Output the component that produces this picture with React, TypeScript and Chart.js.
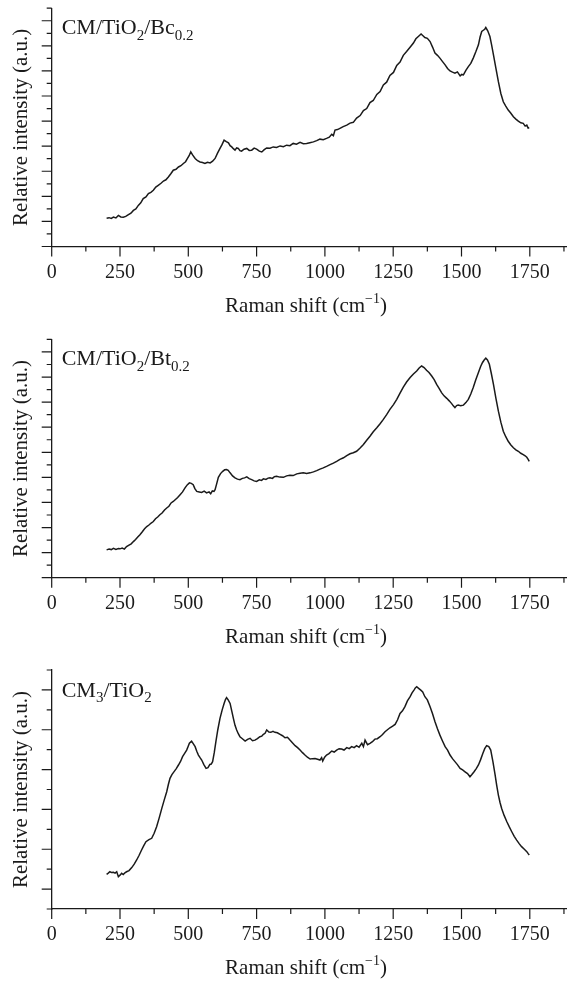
import React, { useEffect, useRef } from 'react';
import { Chart, registerables } from 'chart.js';

Chart.register(...registerables);

// ---------- DATA ----------
const xMajorTicks = [0, 250, 500, 750, 1000, 1250, 1500, 1750];
const xMinorTicks = [125, 375, 625, 875, 1125, 1375, 1625, 1875];

// Panel 1: CM/TiO2/Bc0.2
const shiftBc = [201, 210, 218, 226, 235, 244, 253, 262, 271, 281, 290, 299, 308, 317, 326, 335, 345, 354, 363, 372, 381, 390, 400, 409, 418, 427, 436, 445, 455, 464, 473, 482, 490, 497, 503, 509, 515, 525, 534, 543, 552, 561, 570, 580, 589, 598, 607, 616, 623, 631, 639, 647, 653, 659, 665, 671, 677, 683, 689, 695, 704, 714, 723, 732, 741, 750, 760, 769, 778, 787, 799, 811, 823, 836, 848, 860, 872, 884, 896, 909, 921, 933, 945, 958, 970, 982, 994, 1006, 1016, 1025, 1031, 1037, 1046, 1055, 1067, 1080, 1092, 1104, 1116, 1129, 1141, 1153, 1165, 1177, 1190, 1202, 1214, 1226, 1238, 1251, 1263, 1275, 1287, 1299, 1311, 1324, 1333, 1342, 1347, 1352, 1359, 1366, 1375, 1385, 1394, 1403, 1412, 1421, 1430, 1440, 1449, 1458, 1467, 1476, 1485, 1495, 1501, 1507, 1516, 1525, 1534, 1543, 1552, 1562, 1568, 1574, 1580, 1585, 1589, 1596, 1604, 1610, 1617, 1626, 1635, 1644, 1653, 1662, 1671, 1680, 1690, 1699, 1708, 1717, 1726, 1733, 1739, 1744, 1748];
const intensityBc = [1.13, 1.15, 1.12, 1.17, 1.14, 1.24, 1.18, 1.17, 1.2, 1.27, 1.33, 1.44, 1.5, 1.64, 1.74, 1.91, 1.98, 2.11, 2.16, 2.24, 2.37, 2.44, 2.52, 2.61, 2.66, 2.77, 2.9, 3.04, 3.08, 3.17, 3.22, 3.31, 3.38, 3.51, 3.62, 3.77, 3.66, 3.51, 3.42, 3.37, 3.35, 3.31, 3.36, 3.33, 3.4, 3.51, 3.72, 3.91, 4.05, 4.24, 4.18, 4.13, 4.02, 3.97, 3.9, 3.84, 3.93, 3.91, 3.82, 3.8, 3.88, 3.91, 3.83, 3.84, 3.92, 3.88, 3.8, 3.77, 3.86, 3.93, 3.92, 3.97, 3.95, 4.01, 3.98, 4.04, 4.02, 4.11, 4.08, 4.15, 4.1, 4.11, 4.14, 4.17, 4.22, 4.28, 4.26, 4.31, 4.36, 4.47, 4.42, 4.64, 4.66, 4.71, 4.78, 4.84, 4.92, 4.95, 5.12, 5.22, 5.42, 5.5, 5.74, 5.82, 6.06, 6.18, 6.44, 6.55, 6.82, 6.94, 7.22, 7.35, 7.62, 7.77, 7.93, 8.11, 8.28, 8.37, 8.42, 8.47, 8.4, 8.33, 8.3, 8.17, 7.95, 7.71, 7.62, 7.51, 7.38, 7.24, 7.1, 7.0, 6.95, 6.91, 6.96, 6.8, 6.86, 6.84, 7.02, 7.17, 7.3, 7.51, 7.75, 8.04, 8.35, 8.57, 8.62, 8.66, 8.73, 8.6, 8.37, 8.05, 7.64, 7.1, 6.57, 6.1, 5.77, 5.6, 5.44, 5.32, 5.17, 5.08, 5.0, 4.93, 4.91, 4.8, 4.84, 4.72, 4.73];

// Panel 2: CM/TiO2/Bt0.2
const shiftBt = [201, 210, 218, 226, 235, 244, 250, 258, 266, 274, 283, 291, 299, 307, 315, 323, 331, 340, 348, 356, 364, 372, 380, 388, 396, 404, 413, 421, 429, 437, 445, 453, 461, 470, 479, 488, 496, 504, 511, 518, 524, 531, 540, 549, 558, 567, 576, 582, 588, 594, 598, 604, 610, 618, 626, 633, 640, 646, 653, 662, 671, 680, 689, 698, 706, 714, 723, 732, 741, 750, 760, 768, 775, 784, 792, 799, 808, 815, 823, 835, 848, 860, 872, 884, 897, 909, 921, 933, 946, 958, 970, 982, 994, 1006, 1019, 1031, 1043, 1055, 1068, 1080, 1092, 1104, 1116, 1128, 1141, 1153, 1165, 1177, 1190, 1202, 1214, 1226, 1238, 1251, 1263, 1275, 1287, 1299, 1312, 1324, 1336, 1345, 1354, 1363, 1372, 1381, 1391, 1400, 1409, 1418, 1427, 1436, 1446, 1455, 1464, 1470, 1476, 1482, 1488, 1497, 1507, 1516, 1525, 1534, 1543, 1552, 1562, 1570, 1577, 1583, 1589, 1595, 1602, 1609, 1617, 1626, 1635, 1644, 1653, 1662, 1671, 1680, 1690, 1699, 1708, 1717, 1726, 1733, 1739, 1744, 1748];
const intensityBt = [1.11, 1.14, 1.12, 1.17, 1.13, 1.16, 1.15, 1.18, 1.14, 1.24, 1.3, 1.35, 1.44, 1.52, 1.62, 1.71, 1.82, 1.95, 2.04, 2.1, 2.18, 2.24, 2.35, 2.42, 2.51, 2.58, 2.7, 2.78, 2.85, 2.98, 3.04, 3.12, 3.2, 3.31, 3.42, 3.58, 3.7, 3.78, 3.76, 3.71, 3.55, 3.44, 3.42, 3.4, 3.45, 3.38, 3.42, 3.35, 3.46, 3.44, 3.51, 3.75, 4.0, 4.15, 4.24, 4.3, 4.31, 4.28, 4.18, 4.06, 3.98, 3.93, 3.91, 3.96, 3.98, 4.02, 3.95, 3.91, 3.86, 3.84, 3.9, 3.88, 3.94, 3.92, 3.97, 3.98, 3.96, 4.03, 4.04, 4.01, 4.0, 4.06, 4.08, 4.07, 4.14, 4.16, 4.18, 4.15, 4.18, 4.22, 4.27, 4.33, 4.38, 4.44, 4.51, 4.57, 4.64, 4.72, 4.78, 4.87, 4.94, 4.98, 5.04, 5.16, 5.31, 5.48, 5.64, 5.82, 5.98, 6.14, 6.31, 6.5, 6.71, 6.9, 7.11, 7.36, 7.6, 7.8, 7.98, 8.12, 8.24, 8.36, 8.44, 8.38, 8.27, 8.18, 8.04, 7.9, 7.71, 7.55, 7.38, 7.25, 7.15, 7.05, 6.94, 6.85, 6.78, 6.86, 6.88, 6.86, 6.88, 6.98, 7.11, 7.32, 7.58, 7.88, 8.18, 8.42, 8.58, 8.68, 8.75, 8.68, 8.51, 8.15, 7.71, 7.15, 6.64, 6.2, 5.84, 5.62, 5.44, 5.3, 5.18, 5.1, 5.04, 4.96, 4.91, 4.86, 4.8, 4.72, 4.64];

// Panel 3: CM3/TiO2
const shiftCM3 = [201, 207, 213, 219, 226, 232, 238, 244, 250, 256, 262, 268, 274, 283, 293, 302, 311, 320, 329, 337, 345, 356, 366, 375, 384, 393, 403, 412, 421, 427, 433, 440, 448, 456, 464, 472, 479, 486, 494, 499, 504, 512, 518, 525, 531, 537, 543, 549, 557, 565, 572, 579, 584, 589, 595, 601, 608, 616, 624, 631, 636, 640, 646, 653, 659, 665, 671, 677, 683, 689, 698, 708, 717, 726, 735, 744, 753, 762, 769, 775, 781, 787, 795, 802, 810, 817, 826, 836, 845, 854, 863, 872, 881, 891, 900, 909, 918, 927, 936, 946, 955, 964, 973, 982, 988, 992, 999, 1006, 1015, 1025, 1034, 1043, 1052, 1061, 1070, 1080, 1089, 1098, 1107, 1116, 1125, 1135, 1141, 1147, 1156, 1165, 1174, 1183, 1192, 1202, 1211, 1220, 1229, 1238, 1248, 1257, 1266, 1275, 1284, 1293, 1302, 1312, 1319, 1326, 1331, 1336, 1343, 1351, 1358, 1366, 1375, 1385, 1394, 1403, 1412, 1421, 1430, 1440, 1449, 1458, 1467, 1476, 1485, 1495, 1504, 1513, 1522, 1531, 1538, 1546, 1554, 1562, 1570, 1578, 1585, 1592, 1600, 1607, 1615, 1623, 1629, 1635, 1641, 1647, 1656, 1666, 1675, 1684, 1693, 1702, 1711, 1720, 1730, 1739, 1744, 1748];
const intensityCM3 = [1.74, 1.8, 1.87, 1.83, 1.84, 1.8, 1.87, 1.62, 1.7, 1.79, 1.73, 1.82, 1.87, 1.93, 2.08, 2.25, 2.46, 2.7, 2.96, 3.18, 3.38, 3.48, 3.55, 3.8, 4.13, 4.55, 5.05, 5.48, 5.89, 6.25, 6.56, 6.75, 6.9, 7.05, 7.23, 7.42, 7.65, 7.8, 7.98, 8.15, 8.32, 8.43, 8.3, 8.15, 7.92, 7.73, 7.6, 7.48, 7.25, 7.06, 7.1, 7.26, 7.28, 7.4, 7.85, 8.4, 9.0, 9.57, 10.0, 10.32, 10.52, 10.61, 10.5, 10.32, 9.95, 9.57, 9.22, 8.99, 8.8, 8.65, 8.55, 8.43, 8.52, 8.57, 8.45, 8.48, 8.56, 8.65, 8.68, 8.77, 8.82, 8.99, 8.88, 8.87, 8.92, 8.87, 8.85, 8.77, 8.7, 8.6, 8.62, 8.48, 8.35, 8.2, 8.1, 7.98, 7.85, 7.73, 7.62, 7.53, 7.55, 7.56, 7.52, 7.48, 7.6, 7.43, 7.62, 7.73, 7.8, 7.93, 7.88, 7.98, 8.05, 8.03, 7.98, 8.1, 8.05, 8.15, 8.1, 8.2, 8.12, 8.32, 8.15, 8.48, 8.25, 8.32, 8.4, 8.53, 8.55, 8.65, 8.76, 8.9, 9.0, 9.1, 9.18, 9.27, 9.5, 9.82, 9.95, 10.16, 10.45, 10.66, 10.85, 10.99, 11.1, 11.16, 11.08, 10.99, 10.9, 10.66, 10.5, 10.16, 9.8, 9.4, 9.05, 8.73, 8.45, 8.15, 7.98, 7.73, 7.55, 7.4, 7.25, 7.06, 6.98, 6.89, 6.8, 6.64, 6.75, 6.89, 7.05, 7.23, 7.5, 7.81, 8.05, 8.2, 8.15, 7.98, 7.4, 6.73, 6.2, 5.72, 5.35, 5.05, 4.7, 4.38, 4.12, 3.88, 3.65, 3.46, 3.28, 3.13, 3.0, 2.88, 2.78, 2.71];

const yMajor12 = [0, 1, 2, 3, 4, 5, 6, 7, 8, 9];
const yMinor12 = [0.5, 1.5, 2.5, 3.5, 4.5, 5.5, 6.5, 7.5, 8.5, 9.5];
const yMajor3 = [1, 3, 5, 7, 9, 11];
const yMinor3 = [0, 2, 4, 6, 8, 10, 12];

// ---------- STYLE / LAYOUT ----------
const INK = '#1a1a1a';
const FONT = '"Liberation Serif", "Times New Roman", serif';
const W = 567;
const H = 327;
const AXIS_LEFT = 51.7;
const X_MAX = 1882.5;

type Part = { t: string; s: 'n' | 'sub' | 'sup' };

const panels = [
  { top: 0, chartTop: 8.2, axisY: 246.5, yMax: 9.5, xs: shiftBc, ys: intensityBc, yMajor: yMajor12, yMinor: yMinor12,
    label: [{ t: 'CM/TiO', s: 'n' }, { t: '2', s: 'sub' }, { t: '/Bc', s: 'n' }, { t: '0.2', s: 'sub' }] as Part[] },
  { top: 327, chartTop: 12.4, axisY: 250.7, yMax: 9.5, xs: shiftBt, ys: intensityBt, yMajor: yMajor12, yMinor: yMinor12,
    label: [{ t: 'CM/TiO', s: 'n' }, { t: '2', s: 'sub' }, { t: '/Bt', s: 'n' }, { t: '0.2', s: 'sub' }] as Part[] },
  { top: 654, chartTop: 16, axisY: 255, yMax: 12, xs: shiftCM3, ys: intensityCM3, yMajor: yMajor3, yMinor: yMinor3,
    label: [{ t: 'CM', s: 'n' }, { t: '3', s: 'sub' }, { t: '/TiO', s: 'n' }, { t: '2', s: 'sub' }] as Part[] },
];

function drawRich(ctx: CanvasRenderingContext2D, parts: Part[], x: number, y: number, size: number, align: 'left' | 'center') {
  const small = Math.round(size * 0.68);
  const fontFor = (s: string) => `${s === 'n' ? size : small}px ${FONT}`;
  const widths = parts.map(p => { ctx.font = fontFor(p.s); return ctx.measureText(p.t).width; });
  const total = widths.reduce((a, b) => a + b, 0);
  let cx = align === 'center' ? x - total / 2 : x;
  ctx.textAlign = 'left';
  ctx.textBaseline = 'alphabetic';
  parts.forEach((p, i) => {
    ctx.font = fontFor(p.s);
    const dy = p.s === 'sub' ? size * 0.27 : p.s === 'sup' ? -size * 0.42 : 0;
    ctx.fillText(p.t, cx, y + dy);
    cx += widths[i];
  });
}

function makeDecor(cfg: typeof panels[number]) {
  return {
    id: 'decor',
    afterDraw(chart: any) {
      const ctx: CanvasRenderingContext2D = chart.ctx;
      const xs = chart.scales.x;
      const ys = chart.scales.y;
      const { left, bottom, top } = chart.chartArea;
      ctx.save();
      ctx.strokeStyle = INK;
      ctx.lineWidth = 1.2;
      ctx.beginPath();
      xMajorTicks.forEach(v => { const p = xs.getPixelForValue(v); ctx.moveTo(p, bottom); ctx.lineTo(p, bottom + 10); });
      xMinorTicks.forEach(v => { const p = xs.getPixelForValue(v); ctx.moveTo(p, bottom); ctx.lineTo(p, bottom + 5); });
      cfg.yMajor.forEach(v => { const p = ys.getPixelForValue(v); ctx.moveTo(left, p); ctx.lineTo(left - 10, p); });
      cfg.yMinor.forEach(v => { const p = ys.getPixelForValue(v); ctx.moveTo(left, p); ctx.lineTo(left - 5, p); });
      ctx.stroke();

      ctx.fillStyle = INK;
      // x title
      drawRich(ctx, [{ t: 'Raman shift (cm', s: 'n' }, { t: '\u22121', s: 'sup' }, { t: ')', s: 'n' }], 306, bottom + 65, 21, 'center');
      // y title
      ctx.save();
      ctx.translate(26.5, (top + bottom) / 2);
      ctx.rotate(-Math.PI / 2);
      ctx.font = `21px ${FONT}`;
      ctx.textAlign = 'center';
      ctx.textBaseline = 'alphabetic';
      ctx.fillText('Relative intensity (a.u.)', 0, 0);
      ctx.restore();
      // panel label
      drawRich(ctx, cfg.label, 61.7, bottom - 212.5, 22, 'left');
      ctx.restore();
    },
  };
}

function Panel({ cfg }: { cfg: typeof panels[number] }) {
  const ref = useRef<HTMLCanvasElement>(null);
  useEffect(() => {
    if (!ref.current) return;
    const chart = new Chart(ref.current, {
      type: 'line',
      data: {
        datasets: [{
          data: cfg.xs.map((x, i) => ({ x, y: cfg.ys[i] })),
          borderColor: INK,
          borderWidth: 1.5,
          pointRadius: 0,
          tension: 0,
          fill: false,
        }],
      },
      options: {
        responsive: false,
        animation: false,
        devicePixelRatio: 1,
        layout: { padding: { top: cfg.chartTop, right: 1, left: 0, bottom: 0 } },
        plugins: { legend: { display: false }, tooltip: { enabled: false } },
        scales: {
          x: {
            type: 'linear',
            min: 0,
            max: X_MAX,
            afterFit: (s: any) => { s.height = H - cfg.axisY; },
            afterBuildTicks: (s: any) => { s.ticks = xMajorTicks.map(v => ({ value: v })); },
            grid: { display: false, drawTicks: false },
            border: { display: true, color: INK, width: 1.3 },
            ticks: {
              autoSkip: false,
              maxRotation: 0,
              color: INK,
              padding: 14,
              font: { family: FONT, size: 20 },
              callback: (v: any) => String(v),
            },
          },
          y: {
            type: 'linear',
            min: 0,
            max: cfg.yMax,
            afterFit: (s: any) => { s.width = AXIS_LEFT; },
            grid: { display: false, drawTicks: false },
            border: { display: true, color: INK, width: 1.3 },
            ticks: { display: false },
          },
        },
      },
      plugins: [makeDecor(cfg)],
    } as any);
    return () => chart.destroy();
  }, []);
  return (
    <canvas
      ref={ref}
      width={W}
      height={H}
      style={{ position: 'absolute', left: 0, top: cfg.top, width: W, height: H, display: 'block' }}
    />
  );
}

export default function App() {
  return (
    <div style={{ position: 'absolute', left: 0, top: 0, width: W, height: 981, background: '#fff' }}>
      {panels.map((p, i) => <Panel key={i} cfg={p} />)}
    </div>
  );
}
